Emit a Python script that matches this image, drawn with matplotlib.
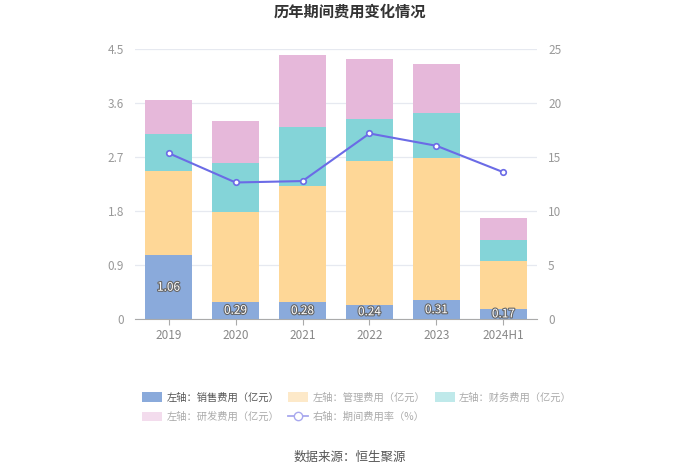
import matplotlib
matplotlib.use("Agg")
import matplotlib.pyplot as plt
import matplotlib.patheffects as pe
from matplotlib.lines import Line2D
from matplotlib.patches import Patch
import numpy as np

plt.rcParams['font.family'] = ['Noto Sans CJK SC', 'DejaVu Sans']

categories = ["2019", "2020", "2021", "2022", "2023", "2024H1"]
sales = [1.06, 0.29, 0.28, 0.24, 0.31, 0.17]
management = [1.41, 1.50, 1.94, 2.39, 2.37, 0.79]
finance = [0.61, 0.82, 0.99, 0.71, 0.75, 0.36]
rnd = [0.58, 0.70, 1.19, 0.99, 0.83, 0.37]
rate = [15.37, 12.65, 12.78, 17.19, 16.05, 13.6]

left_ticks = [0, 0.9, 1.8, 2.7, 3.6, 4.5]
left_tick_labels = ["0", "0.9", "1.8", "2.7", "3.6", "4.5"]
right_ticks = [0, 5, 10, 15, 20, 25]

c_sales = "#8aaadb"
c_mgmt = "#fed797"
c_fin = "#84d4d8"
c_rnd = "#e6b8da"
c_line = "#6b6be6"

fig = plt.figure(figsize=(7, 4.73), dpi=100)
ax = fig.add_axes([0.193, 0.3256, 0.574, 0.5704])
ax2 = ax.twinx()

x = np.arange(len(categories))
w = 0.69
b1 = np.array(sales)
b2 = b1 + np.array(management)
b3 = b2 + np.array(finance)
ax.bar(x, sales, w, color=c_sales, zorder=2)
ax.bar(x, management, w, bottom=b1, color=c_mgmt, zorder=2)
ax.bar(x, finance, w, bottom=b2, color=c_fin, zorder=2)
ax.bar(x, rnd, w, bottom=b3, color=c_rnd, zorder=2)

for xi, v in zip(x, sales):
    ax.text(xi, v / 2, f"{v:.2f}", ha="center", va="center", fontsize=8.5,
            color="white", zorder=5,
            path_effects=[pe.withStroke(linewidth=1.6, foreground="#666666")])

ax.set_xlim(-0.5, len(categories) - 0.5)
ax.set_ylim(0, 4.5)
ax.set_yticks(left_ticks)
ax.set_yticklabels(left_tick_labels)
ax.set_xticks(x)
ax.set_xticklabels(categories)
ax.grid(axis="y", color="#e6e9f0", linewidth=0.9, zorder=0)
ax.set_axisbelow(True)
for s in ["top", "right", "left"]:
    ax.spines[s].set_visible(False)
ax.spines["bottom"].set_color("#aaaaaa")
ax.tick_params(axis="y", length=0, colors="#999999", labelsize=8.5, pad=8)
ax.tick_params(axis="x", length=4, color="#aaaaaa", colors="#888888", labelsize=8.5, pad=3)

ax2.plot(x, rate, color=c_line, linewidth=1.5, marker="o", markersize=4,
         markerfacecolor="white", markeredgecolor=c_line, markeredgewidth=1.2, zorder=4)
ax2.set_ylim(0, 25)
ax2.set_yticks(right_ticks)
for s in ["top", "right", "left", "bottom"]:
    ax2.spines[s].set_visible(False)
ax2.tick_params(axis="y", length=0, colors="#999999", labelsize=8.5, pad=8)

fig.text(0.5, 0.975, "历年期间费用变化情况", ha="center", va="center",
         fontsize=11, fontweight="bold", color="#333333")
fig.text(0.5, 0.034, "数据来源：恒生聚源", ha="center", va="center",
         fontsize=9, color="#555555")

h_sales = Patch(facecolor=c_sales, edgecolor="none")
h_mgmt = Patch(facecolor="#fde9c9", edgecolor="none")
h_fin = Patch(facecolor="#bfe9ea", edgecolor="none")
h_rnd = Patch(facecolor="#f3dced", edgecolor="none")
h_rate = Line2D([0], [0], color="#a8a8ee", marker="o", markersize=6,
                markerfacecolor="white", markeredgecolor="#a8a8ee", linewidth=1.3)
l_sales = "左轴：销售费用（亿元）"
l_mgmt = "左轴：管理费用（亿元）"
l_fin = "左轴：财务费用（亿元）"
l_rnd = "左轴：研发费用（亿元）"
l_rate = "右轴：期间费用率（%）"
# column-major order so rows read: sales, mgmt, fin / rnd, rate
handles = [h_sales, h_rnd, h_mgmt, h_rate, h_fin]
labels = [l_sales, l_rnd, l_mgmt, l_rate, l_fin]
leg = fig.legend(handles, labels, loc="upper left", bbox_to_anchor=(0.19, 0.19),
                 ncol=3, frameon=False, fontsize=7.4, handlelength=1.95,
                 handleheight=1.1, columnspacing=0.85, labelspacing=0.85,
                 handletextpad=0.45)
for t, lab in zip(leg.get_texts(), labels):
    t.set_color("#555555" if lab == l_sales else "#aaaaaa")

fig.savefig("out.png", dpi=100)
